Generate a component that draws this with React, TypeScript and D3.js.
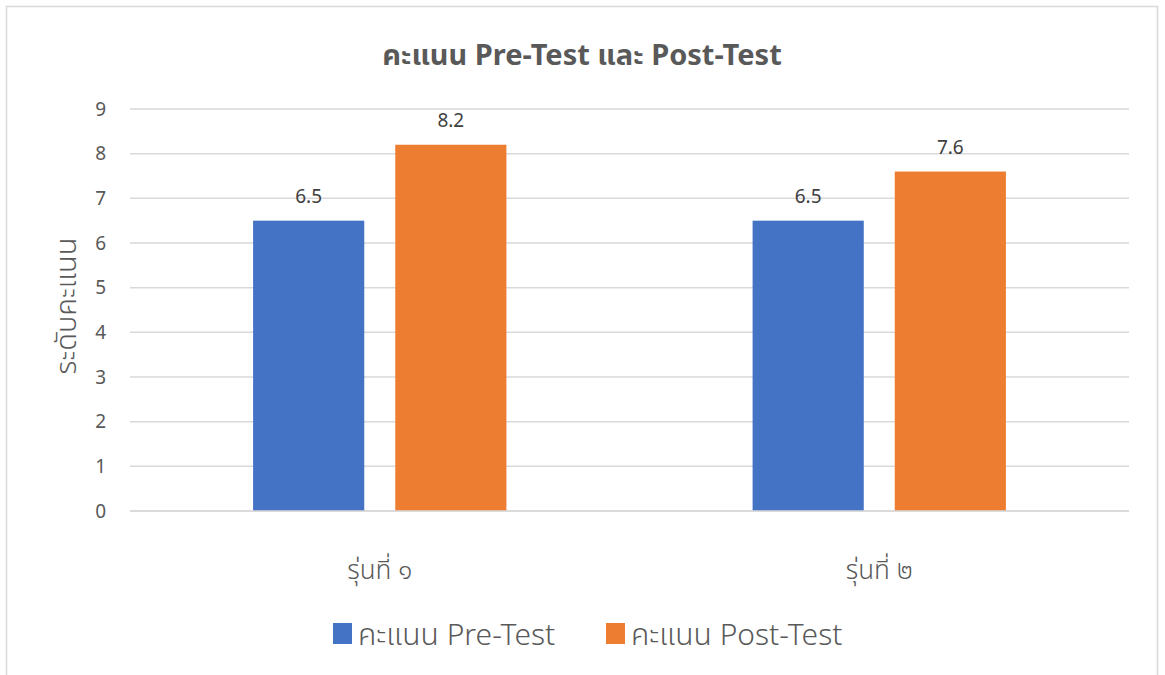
import React, { useEffect, useRef } from "react";
import * as d3 from "d3";

const categories = ["รุ่นที่ ๑", "รุ่นที่ ๒"];
const seriesNames = ["คะแนน Pre-Test", "คะแนน Post-Test"];
const preTest = [6.5, 6.5];
const postTest = [8.2, 7.6];
const yTicks = [0, 1, 2, 3, 4, 5, 6, 7, 8, 9];

const colors = ["#4472C4", "#ED7D31"];
// latin in Noto Sans, thai glyphs fall back to whatever thai face is there
const font =
  "'Segoe UI', 'Noto Sans', 'Noto Sans Thai', 'Noto Sans Thai UI', Loma, Garuda, 'Tlwg Typo', sans-serif";

const App = () => {
  const svgRef = useRef<SVGSVGElement>(null);

  useEffect(() => {
    const width = 1165;
    const height = 675;
    const margin = { top: 109, right: 36, bottom: 164, left: 130 };

    const svg = d3.select(svgRef.current);
    svg.selectAll("*").remove();
    svg.attr("width", width).attr("height", height);

    // chart border
    svg
      .append("rect")
      .attr("x", 6.5)
      .attr("y", 6.5)
      .attr("width", 1151)
      .attr("height", 700)
      .attr("fill", "#fff")
      .attr("stroke", "#D9D9D9")
      .attr("stroke-width", 1.5);

    const x = d3
      .scaleBand()
      .domain(categories)
      .range([margin.left, width - margin.right]);

    const y = d3
      .scaleLinear()
      .domain([0, 9])
      .range([height - margin.bottom, margin.top]);

    // gridlines
    svg
      .append("g")
      .selectAll("line")
      .data(yTicks)
      .join("line")
      .attr("x1", margin.left)
      .attr("x2", width - margin.right)
      .attr("y1", (d) => y(d))
      .attr("y2", (d) => y(d))
      .attr("stroke", "#D9D9D9")
      .attr("stroke-width", 1.5);

    // y tick labels
    svg
      .append("g")
      .selectAll("text")
      .data(yTicks)
      .join("text")
      .attr("x", 106)
      .attr("y", (d) => y(d))
      .attr("dy", "0.35em")
      .attr("text-anchor", "end")
      .attr("fill", "#595959")
      .style("font-family", font)
      .style("font-size", "19px")
      .text((d) => d);

    // y axis title
    svg
      .append("text")
      .attr("transform", `translate(76,${(y(0) + y(9)) / 2 - 4}) rotate(-90)`)
      .attr("text-anchor", "middle")
      .attr("fill", "#595959")
      .style("font-family", font)
      .style("font-size", "29px")
      .style("font-weight", "300")
      .text("ระดับคะแนน");

    const x1 = d3
      .scaleBand()
      .domain(seriesNames)
      .range([0, x.bandwidth()])
      .paddingInner(0.218)
      .paddingOuter(0.866);

    const rows = categories.map((c, i) => ({
      cat: c,
      vals: [preTest[i], postTest[i]],
    }));

    const groups = svg
      .append("g")
      .selectAll("g")
      .data(rows)
      .join("g")
      .attr("transform", (d) => `translate(${x(d.cat)},0)`);

    groups
      .selectAll("rect")
      .data((d) => d.vals.map((v, j) => ({ v, s: seriesNames[j], j })))
      .join("rect")
      .attr("x", (d) => x1(d.s)!)
      .attr("width", x1.bandwidth())
      .attr("y", (d) => y(d.v))
      .attr("height", (d) => y(0) - y(d.v))
      .attr("fill", (d) => colors[d.j]);

    groups
      .selectAll("text")
      .data((d) => d.vals.map((v, j) => ({ v, s: seriesNames[j] })))
      .join("text")
      .attr("x", (d) => x1(d.s)! + x1.bandwidth() / 2)
      .attr("y", (d) => y(d.v) - 18)
      .attr("text-anchor", "middle")
      .attr("fill", "#404040")
      .style("font-family", font)
      .style("font-size", "19px")
      .text((d) => d.v);

    // baseline
    svg
      .append("line")
      .attr("x1", margin.left)
      .attr("x2", width - margin.right)
      .attr("y1", y(0))
      .attr("y2", y(0))
      .attr("stroke", "#D9D9D9")
      .attr("stroke-width", 1.5);

    // category labels
    svg
      .append("g")
      .selectAll("text")
      .data(categories)
      .join("text")
      .attr("x", (d) => x(d)! + x.bandwidth() / 2)
      .attr("y", 579)
      .attr("text-anchor", "middle")
      .attr("fill", "#595959")
      .style("font-family", font)
      .style("font-size", "26px")
      .style("font-weight", "300")
      .text((d) => d);

    // title
    svg
      .append("text")
      .attr("x", 582)
      .attr("y", 65)
      .attr("text-anchor", "middle")
      .attr("fill", "#595959")
      .style("font-family", font)
      .style("font-size", "29px")
      .style("font-weight", "bold")
      .text("คะแนน Pre-Test และ Post-Test");

    // legend
    const legendX = [333, 606];
    const legend = svg
      .append("g")
      .selectAll("g")
      .data(seriesNames)
      .join("g")
      .attr("transform", (d, i) => `translate(${legendX[i]},623)`);

    legend
      .append("rect")
      .attr("width", 19)
      .attr("height", 21)
      .attr("fill", (d, i) => colors[i]);

    legend
      .append("text")
      .attr("x", 25)
      .attr("y", 22)
      .attr("fill", "#595959")
      .style("font-family", font)
      .style("font-size", "30px")
      .style("font-weight", "300")
      .text((d) => d);
  }, []);

  return (
    <svg
      ref={svgRef}
      style={{ position: "absolute", left: 0, top: 0, display: "block" }}
    ></svg>
  );
};

export default App;
